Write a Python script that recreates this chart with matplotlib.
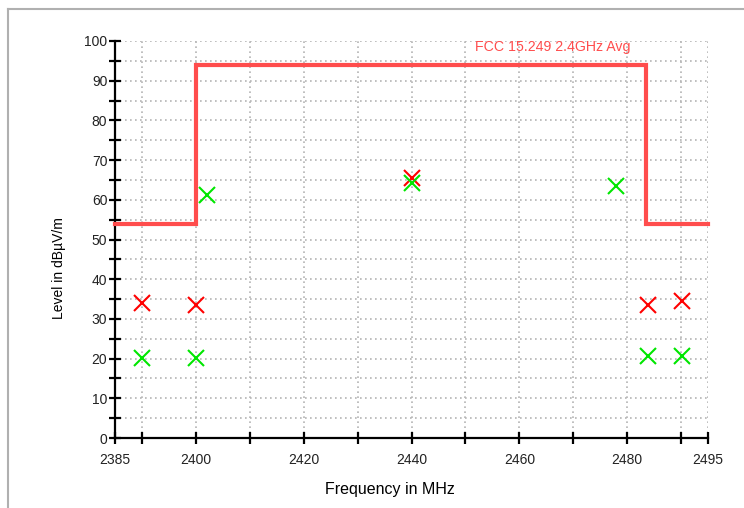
import matplotlib
matplotlib.use("Agg")
import matplotlib.pyplot as plt
from matplotlib.lines import Line2D

plt.rcParams['font.family'] = ['Liberation Sans', 'DejaVu Sans']

# Limit line (FCC 15.249 2.4GHz Avg)
limit_x = [2385, 2400, 2400, 2483.5, 2483.5, 2495]
limit_y = [54, 54, 94, 94, 54, 54]
limit_label = "FCC 15.249 2.4GHz Avg"

# Peak measurements (red)
peak_x = [2390, 2400, 2440, 2483.9, 2490.2]
peak_y = [34.0, 33.5, 65.6, 33.5, 34.5]

# Average measurements (green)
avg_x = [2390, 2400, 2402.1, 2440, 2477.9, 2483.9, 2490.2]
avg_y = [20.2, 20.2, 61.1, 64.3, 63.5, 20.7, 20.7]

xticks = [2385, 2390, 2400, 2410, 2420, 2430, 2440, 2450, 2460, 2470, 2480, 2490, 2495]
xticklabels = ['2385', '', '2400', '', '2420', '', '2440', '', '2460', '', '2480', '', '2495']
yticks = list(range(0, 101, 5))
yticklabels = [str(v) if v % 10 == 0 else '' for v in yticks]

fig = plt.figure(figsize=(7.44, 5.08), dpi=100)
ax = fig.add_axes([115/744, 70/508, 593/744, 397/508])

ax.set_xlim(2385, 2495)
ax.set_ylim(0, 100)
ax.set_xticks(xticks)
ax.set_xticklabels(xticklabels, fontsize=10)
ax.set_yticks(yticks)
ax.set_yticklabels(yticklabels, fontsize=10)
ax.grid(True, color='#b4b4b4', linestyle=(0, (1, 2)), linewidth=1.2)
ax.set_axisbelow(True)

for s in ['top', 'right']:
    ax.spines[s].set_visible(False)
for s in ['left', 'bottom']:
    ax.spines[s].set_linewidth(1.6)
    ax.spines[s].set_color('black')
ax.tick_params(axis='both', direction='inout', length=9, width=1.6, colors='black', labelcolor='#222222')
ax.tick_params(axis='x', pad=6)
ax.tick_params(axis='y', pad=1)

ax.plot(limit_x, limit_y, color='#ff4d4d', linewidth=3, solid_joinstyle='miter', zorder=3, clip_on=False)
ax.text(2451.8, 98.4, limit_label, color='#ff4d4d', fontsize=10.2, va='center', ha='left')

ax.plot(peak_x, peak_y, linestyle='none', marker='x', markersize=11, markeredgewidth=1.5, color='#ff0000', zorder=4)
ax.plot(avg_x, avg_y, linestyle='none', marker='x', markersize=11, markeredgewidth=1.5, color='#00e600', zorder=5)

ax.set_xlabel('Frequency in MHz', fontsize=11.5)
ax.xaxis.set_label_coords(0.464, -0.111)
ax.set_ylabel('Level in dBµV/m', fontsize=10)
ax.yaxis.set_label_coords(-0.083, 0.428)

# Gray frame
fig.add_artist(Line2D([8/744, 1], [1 - 9/508, 1 - 9/508], color='#b0b0b0', linewidth=1.5, transform=fig.transFigure))
fig.add_artist(Line2D([8/744, 8/744], [0, 1 - 9/508], color='#b0b0b0', linewidth=1.5, transform=fig.transFigure))

fig.savefig('out.png', dpi=100)
